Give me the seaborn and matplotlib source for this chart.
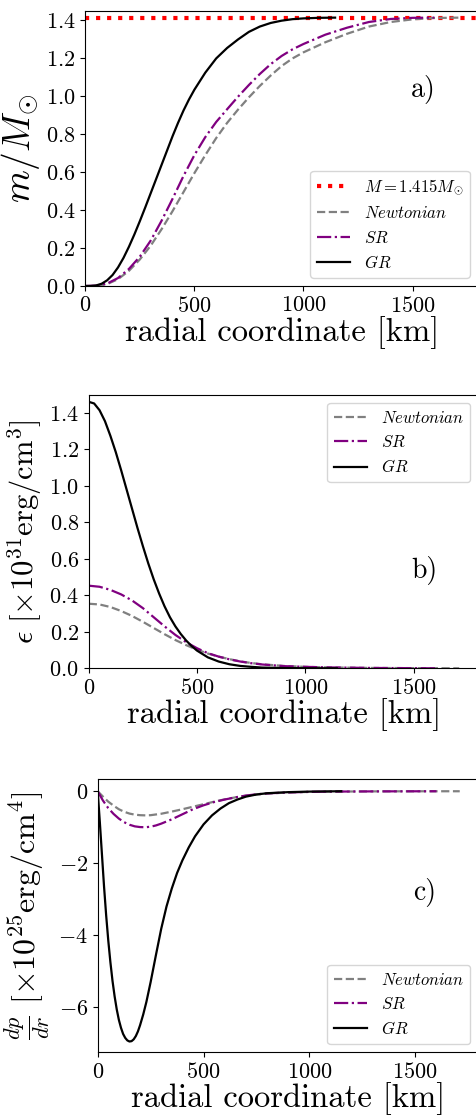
import numpy as np
import matplotlib
matplotlib.use("Agg")
import matplotlib.pyplot as plt
import seaborn as sns

plt.rcParams["font.family"] = ["cmr10", "DejaVu Sans"]
plt.rcParams["mathtext.fontset"] = "cm"
plt.rcParams["axes.formatter.use_mathtext"] = True
plt.rcParams["axes.unicode_minus"] = True

# ---------------- data ----------------
M_total = 1.415

# panel a: enclosed mass m/M_sun
r_m_newt = [0, 50, 100, 150, 200, 250, 300, 350, 400, 450, 500, 550, 600, 650, 700, 750, 800, 850,
            900, 950, 1000, 1100, 1200, 1300, 1400, 1500, 1600, 1710]
m_newt = [0, 0.001, 0.01, 0.036, 0.08, 0.14, 0.213, 0.3, 0.395, 0.495, 0.595, 0.69, 0.78, 0.86, 0.93, 0.995,
          1.055, 1.11, 1.16, 1.2, 1.232, 1.285, 1.33, 1.368, 1.392, 1.406, 1.413, 1.415]
r_m_sr = [0, 50, 100, 150, 200, 250, 300, 350, 400, 450, 500, 550, 600, 650, 700, 750, 800, 850,
          900, 950, 1000, 1100, 1200, 1300, 1400, 1500, 1600]
m_sr = [0, 0.002, 0.013, 0.042, 0.09, 0.155, 0.24, 0.345, 0.46, 0.58, 0.69, 0.785, 0.865, 0.932, 0.998,
        1.06, 1.118, 1.17, 1.213, 1.248, 1.276, 1.325, 1.362, 1.392, 1.408, 1.414, 1.415]
r_m_gr = [0, 25, 50, 75, 100, 125, 150, 175, 200, 225, 250, 275, 300, 325, 350, 375, 400, 425, 450, 475,
          500, 550, 600, 650, 700, 750, 800, 850, 900, 950, 1000, 1070, 1145]
m_gr = [0, 0.0, 0.003, 0.012, 0.03, 0.058, 0.098, 0.148, 0.207, 0.272, 0.342, 0.415, 0.49, 0.565, 0.64,
        0.715, 0.79, 0.86, 0.925, 0.983, 1.035, 1.125, 1.2, 1.255, 1.3, 1.34, 1.368, 1.387, 1.399, 1.407,
        1.411, 1.414, 1.415]

# panel b: energy density [1e31 erg/cm^3]
r_e_newt = [0, 50, 100, 150, 200, 250, 300, 350, 400, 450, 500, 550, 600, 650, 700, 750, 800, 900,
            1000, 1100, 1300, 1500, 1710]
e_newt = [0.354, 0.35, 0.336, 0.314, 0.287, 0.255, 0.221, 0.187, 0.155, 0.127, 0.102, 0.081, 0.064, 0.05,
          0.038, 0.029, 0.022, 0.013, 0.008, 0.005, 0.002, 0.001, 0.0]
r_e_sr = [0, 50, 100, 150, 200, 250, 300, 350, 400, 450, 500, 550, 600, 650, 700, 750, 800, 900,
          1000, 1100, 1300, 1450, 1600]
e_sr = [0.453, 0.447, 0.43, 0.405, 0.372, 0.33, 0.28, 0.23, 0.183, 0.143, 0.11, 0.083, 0.064, 0.049,
        0.037, 0.028, 0.021, 0.012, 0.008, 0.005, 0.002, 0.001, 0.0]
r_e_gr = [0, 25, 50, 75, 100, 125, 150, 175, 200, 225, 250, 275, 300, 325, 350, 375, 400, 425, 450, 475,
          500, 550, 600, 650, 700, 750, 800, 900, 1000, 1145]
e_gr = [1.461, 1.452, 1.415, 1.355, 1.275, 1.185, 1.085, 0.98, 0.875, 0.77, 0.67, 0.575, 0.488, 0.41,
        0.34, 0.28, 0.23, 0.188, 0.152, 0.122, 0.097, 0.06, 0.037, 0.022, 0.013, 0.008, 0.004, 0.0015,
        0.0005, 0.0]

# panel c: dp/dr [1e25 erg/cm^4]
r_d_newt = [0, 25, 50, 75, 100, 125, 150, 175, 200, 225, 250, 300, 350, 400, 450, 500, 550, 600, 650,
            700, 750, 800, 900, 1000, 1100, 1300, 1500, 1710]
d_newt = [0, -0.15, -0.29, -0.4, -0.5, -0.57, -0.62, -0.65, -0.665, -0.67, -0.665, -0.625, -0.565, -0.5,
          -0.43, -0.36, -0.29, -0.225, -0.17, -0.125, -0.09, -0.065, -0.035, -0.018, -0.01, -0.004,
          -0.001, 0]
r_d_sr = [0, 25, 50, 75, 100, 125, 150, 175, 200, 225, 250, 275, 300, 350, 400, 450, 500, 550, 600,
          650, 700, 750, 800, 900, 1000, 1100, 1300, 1600]
d_sr = [0, -0.26, -0.47, -0.63, -0.76, -0.86, -0.93, -0.975, -0.995, -1.0, -0.985, -0.95, -0.9, -0.78,
        -0.64, -0.5, -0.39, -0.3, -0.23, -0.17, -0.12, -0.085, -0.06, -0.033, -0.018, -0.01, -0.004, 0]
r_d_gr = [0, 10, 20, 30, 40, 50, 60, 70, 80, 90, 100, 110, 120, 130, 140, 150, 160, 170, 180, 190, 200,
          215, 230, 250, 275, 300, 325, 350, 375, 400, 430, 460, 500, 540, 580, 620, 660, 700, 750, 800,
          900, 1000, 1150]
d_gr = [0, -0.85, -1.75, -2.65, -3.45, -4.15, -4.75, -5.27, -5.7, -6.06, -6.35, -6.57, -6.74, -6.85,
        -6.92, -6.95, -6.94, -6.89, -6.8, -6.67, -6.5, -6.2, -5.85, -5.3, -4.55, -3.82, -3.2, -2.7,
        -2.27, -1.92, -1.56, -1.25, -0.92, -0.67, -0.48, -0.33, -0.23, -0.15, -0.09, -0.055, -0.025,
        -0.01, 0]

labels = [r"$Newtonian$", r"$SR$", r"$GR$"]
xticks = [0, 500, 1000, 1500]
yticks_ab = [0.0, 0.2, 0.4, 0.6, 0.8, 1.0, 1.2, 1.4]
yticks_c = [0, -2, -4, -6]

# ---------------- figure ----------------
W, H = 477, 1115
fig = plt.figure(figsize=(W / 100, H / 100), dpi=100)

def rect(l, t, r, b):
    return [l / W, 1 - b / H, (r - l) / W, (b - t) / H]

ax_a = fig.add_axes(rect(85.3, 11, 478, 286))
ax_b = fig.add_axes(rect(88.7, 394.7, 478.7, 668.3))
ax_c = fig.add_axes(rect(97.7, 779, 478.8, 1052.3))

styles = [dict(color="gray", linestyle="--"),
          dict(color="purple", linestyle="-."),
          dict(color="black", linestyle="-")]
LW = 1.6
TICK_FS = 16
LAB_FS = 23.5
LEG_KW = dict(fontsize=12, labelspacing=0.5)

def draw(ax, series):
    for (x, y), st, lab in zip(series, styles, labels):
        sns.lineplot(x=x, y=y, ax=ax, label=lab, linewidth=LW, sort=False, **st)

# panel a
ax_a.axhline(M_total, color="red", linestyle=":", linewidth=3, label=r"$M=1.415M_{\odot}$")
draw(ax_a, [(r_m_newt, m_newt), (r_m_sr, m_sr), (r_m_gr, m_gr)])
ax_a.set_ylim(0, 1.45)
ax_a.set_yticks(yticks_ab)
ax_a.set_ylabel(r"$m/M_{\odot}$", fontsize=27, labelpad=3)
ax_a.legend(loc="lower right", **LEG_KW)
ax_a.text(0.86, 0.713, "a)", transform=ax_a.transAxes, ha="center", va="center", fontsize=20)

# panel b
draw(ax_b, [(r_e_newt, e_newt), (r_e_sr, e_sr), (r_e_gr, e_gr)])
ax_b.set_ylim(0, 1.5)
ax_b.set_yticks(yticks_ab)
ax_b.set_ylabel(r"$\epsilon\ [\times 10^{31} \mathrm{erg/cm}^3]$", fontsize=22)
ax_b.legend(loc="upper right", **LEG_KW)
ax_b.text(0.862, 0.359, "b)", transform=ax_b.transAxes, ha="center", va="center", fontsize=20)

# panel c
draw(ax_c, [(r_d_newt, d_newt), (r_d_sr, d_sr), (r_d_gr, d_gr)])
ax_c.set_ylim(-7.25, 0.34)
ax_c.set_yticks(yticks_c)
ax_c.set_ylabel(r"$\frac{dp}{dr}\ [\times 10^{25} \mathrm{erg/cm}^4]$", fontsize=23)
ax_c.legend(loc="lower right", **LEG_KW)
ax_c.text(0.859, 0.583, "c)", transform=ax_c.transAxes, ha="center", va="center", fontsize=20)

for ax in (ax_a, ax_b, ax_c):
    ax.set_xlim(0, 1800)
    ax.set_xticks(xticks)
    ax.set_xlabel("radial coordinate [km]", fontsize=LAB_FS, labelpad=0)
    ax.tick_params(labelsize=TICK_FS)

fig.savefig("out.png", dpi=100)
